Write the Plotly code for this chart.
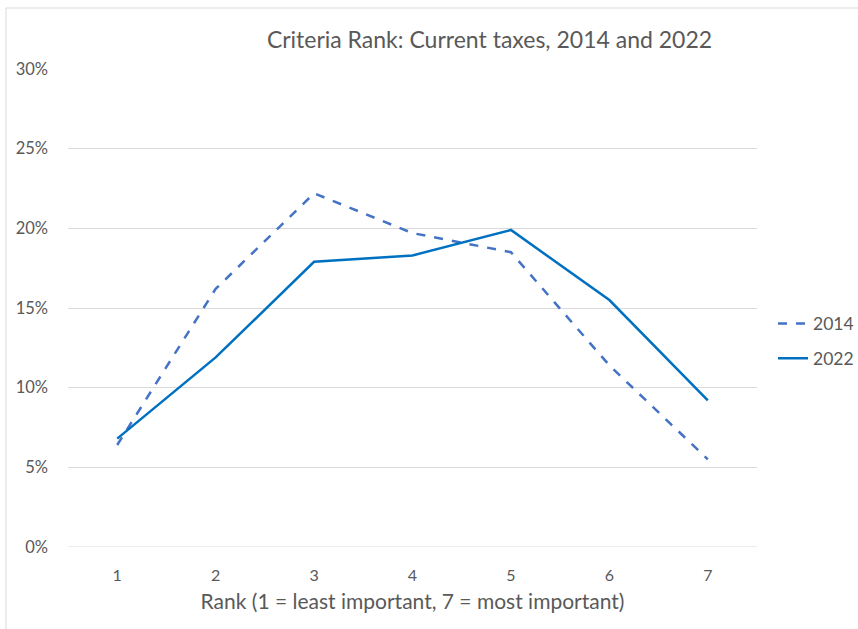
import plotly.graph_objects as go

ranks = [1, 2, 3, 4, 5, 6, 7]
tick_labels = ["1", "2", "3", "4", "5", "6", "7"]
y2014 = [0.064, 0.162, 0.222, 0.197, 0.185, 0.114, 0.055]
y2022 = [0.068, 0.119, 0.179, 0.183, 0.199, 0.155, 0.092]

FONT = "Lato"
GRAY = "#595959"

fig = go.Figure()
fig.add_trace(go.Scatter(x=ranks, y=y2014, mode="lines", name="2014", legendgroup="a",
                         line=dict(color="#4472C4", width=2.5, dash="dash")))
fig.add_trace(go.Scatter(x=ranks, y=y2022, mode="lines", name="2022", legendgroup="b",
                         line=dict(color="#0070C0", width=2.5)))

L, R, T, B = 68, 101, 69, 82
W, H = 858, 629
pw, ph = W - L - R, H - T - B

fig.update_layout(
    width=W, height=H,
    margin=dict(l=L, r=R, t=T, b=B, autoexpand=False),
    paper_bgcolor="white", plot_bgcolor="white",
    font=dict(family=FONT, color=GRAY, size=16),
    title=dict(text="Criteria Rank: Current taxes, 2014 and 2022",
               x=489.5 / W, xanchor="center", y=1 - 40 / H, yanchor="middle",
               font=dict(family=FONT, size=23, color=GRAY)),
    xaxis=dict(range=[0.5, 7.5], tickmode="array", tickvals=ranks, ticktext=tick_labels,
               showgrid=False, zeroline=False, showline=False, ticks="",
               ticklabelstandoff=17,
               title=dict(text="Rank (1 = least important, 7 = most important)",
                          font=dict(size=21, color=GRAY), standoff=11),
               tickfont=dict(size=16, color=GRAY)),
    yaxis=dict(range=[0, 0.30], tickvals=[0, 0.05, 0.10, 0.15, 0.20, 0.25, 0.30],
               tickformat=".0%", showgrid=True, gridcolor="#D9D9D9", gridwidth=1,
               zeroline=False, showline=False, ticks="", ticklabelstandoff=19,
               tickfont=dict(size=16.5, color=GRAY)),
    legend=dict(x=(773 - L) / pw, xanchor="left", y=(547 - 341) / ph, yanchor="middle",
                font=dict(size=17.5, color=GRAY), itemwidth=30, tracegroupgap=9,
                traceorder="grouped",
                bgcolor="rgba(0,0,0,0)"),
    showlegend=True,
)
# zero gridline
fig.add_shape(type="line", xref="paper", yref="y", x0=0, x1=1, y0=0, y1=0,
              line=dict(color="#D9D9D9", width=1), layer="below")
# chart-area border (partially visible)
fig.add_shape(type="line", xref="paper", yref="paper",
              x0=(6 - L) / pw, x1=(6 - L) / pw, y0=(547 - 8) / ph, y1=(547 - 640) / ph,
              line=dict(color="#D9D9D9", width=1))
fig.add_shape(type="line", xref="paper", yref="paper",
              x0=(6 - L) / pw, x1=(870 - L) / pw, y0=(547 - 8) / ph, y1=(547 - 8) / ph,
              line=dict(color="#D9D9D9", width=1))

fig.write_html("out.html")
